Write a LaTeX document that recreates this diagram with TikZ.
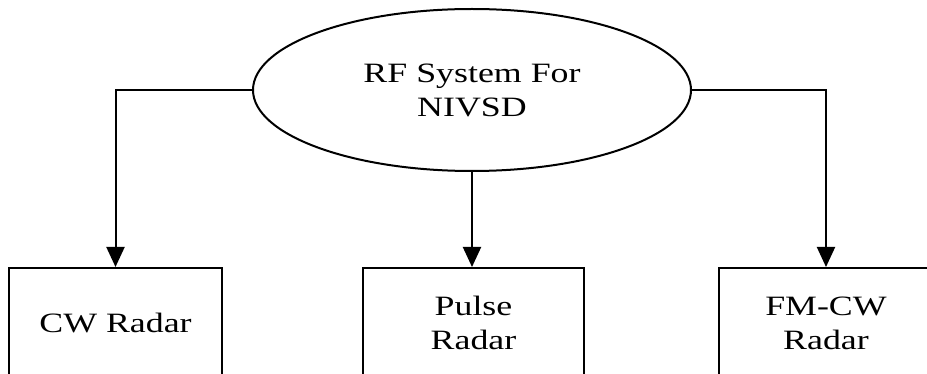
\documentclass[tikz,border=0pt]{standalone}
\usepackage{fontspec}
\setmainfont[FakeStretch=1.28]{Liberation Serif}
\usetikzlibrary{arrows.meta,shapes.geometric}
\tikzset{
  base/.style={draw=black, line width=2pt, fill=white, inner sep=0pt, align=center,
    font=\fontsize{28}{34}\selectfont},
  topnode/.style={base, ellipse, minimum width=438pt, minimum height=162pt},
  radarbox/.style={base, rectangle, minimum height=110pt},
  conn/.style={draw=black, line width=2pt, -{Triangle[width=18pt,length=20pt]}}
}
\begin{document}
\begin{tikzpicture}[x=1pt,y=-1pt]
  \clip (0,0) rectangle (927,374);
  \fill[white] (0,0) rectangle (927,374);
  \node[topnode] (rf) at (472,90) {RF System For\\NIVSD};
  \node[radarbox, minimum width=213pt] (cw) at (115.5,323) {CW Radar};
  \node[radarbox, minimum width=221pt] (pulse) at (473.5,323) {Pulse\\Radar};
  \node[radarbox, minimum width=214pt] (fm) at (826,323) {FM-CW\\Radar};
  \draw[conn] (rf.west) -| (cw.north);
  \draw[conn] (rf.south) -- (rf.south |- pulse.north);
  \draw[conn] (rf.east) -| (fm.north);
\end{tikzpicture}
\end{document}
